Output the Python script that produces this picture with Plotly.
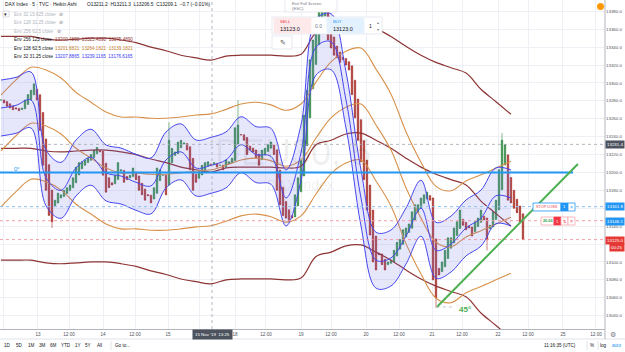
import plotly.graph_objects as go

W, H = 625, 352

# ---------------- data ----------------
# Heikin Ashi closes, one value per bar
ha_close = [
    13281, 13277.7, 13274, 13272, 13270, 13271, 13269, 13272, 13281, 13287,
    13292, 13299, 13281, 13247, 13208, 13180, 13152, 13145, 13169, 13177,
    13175, 13180, 13183, 13186, 13194, 13206, 13211, 13212, 13214, 13216,
    13220, 13225, 13228, 13223, 13197, 13178, 13183, 13186, 13197, 13211,
    13203, 13189, 13192, 13197, 13205, 13192, 13180, 13175, 13169, 13174,
    13166, 13183, 13205, 13203, 13197, 13175, 13236, 13227, 13223, 13234,
    13236, 13233, 13225, 13203, 13180, 13189, 13201, 13208, 13211, 13212,
    13208, 13211, 13206, 13208, 13203, 13214, 13212, 13216, 13250, 13253,
    13242, 13236, 13220, 13225, 13223, 13216, 13208, 13225, 13227, 13231,
    13234, 13220, 13180, 13164, 13152, 13149, 13145, 13149, 13175, 13194,
    13214, 13264, 13292, 13326, 13348, 13365, 13382, 13387, 13384, 13348,
    13339, 13331, 13328, 13323, 13326, 13320, 13314.5, 13287, 13261, 13236,
    13212, 13192, 13158, 13130, 13100, 13091, 13108, 13097, 13091, 13100,
    13102, 13113, 13122, 13125, 13136, 13138, 13142.5, 13156, 13164, 13164,
    13171.5, 13175, 13178, 13169, 13080, 13060, 13085.5, 13100, 13113, 13127,
    13127, 13138, 13145, 13158, 13141, 13136, 13138, 13129, 13145, 13149,
    13158, 13147, 13125, 13141, 13156, 13169, 13203, 13236, 13231, 13169,
    13166, 13160, 13155, 13145, 13125,
]
extra_high = {56: 13256.0, 79: 13281.0, 167: 13244.0}
extra_low = {17: 13138.0, 145: 13048.6, 162: 13113.0}

# Envelope basis values, one every 5 bars
env_step = 5
env32_basis = [13272, 13275, 13281, 13194, 13180, 13205, 13217, 13199.5, 13196, 13189,
               13185, 13214, 13223, 13205, 13208, 13214, 13231, 13220, 13218, 13171.5,
               13222, 13340, 13346, 13281, 13171.5, 13102, 13104.5, 13129, 13160, 13113,
               13120, 13138, 13149, 13174, 13171.5]
env128_basis = [13224, 13241, 13255, 13252, 13243, 13227, 13216, 13205, 13199.5, 13199.5,
                13198, 13198, 13199.5, 13201.7, 13203, 13208, 13214, 13216, 13213, 13207,
                13214, 13238.5, 13261, 13273, 13276.5, 13253, 13225, 13183, 13149, 13122,
                13117, 13128, 13135, 13142.5, 13150]
env256_basis = [13227, 13227, 13227, 13224, 13223, 13224, 13225, 13225, 13223, 13220,
                13215, 13211, 13206, 13203, 13200.5, 13205, 13206, 13206, 13206, 13205,
                13207, 13231, 13236, 13243, 13244, 13236, 13227, 13216, 13206, 13198,
                13192, 13186, 13168, 13154, 13140]
env32_offset = 31.25
env128_offset = 62.5
env256_offset = 125.0

x_tick_bars = [0.67, 12.33, 22.67, 34, 44.67, 55.67, 66.33, 78, 88.33, 100, 110,
               121.67, 132.67, 143.67, 153.67, 165.67, 175.67, 187.33, 198.33]
# the 12:00 label of the 15th sits under the crosshair date label in the reference
x_tick_text = ["12:00", "13", "12:00", "14", "12:00", "15", "", "18", "12:00", "19",
               "12:00", "20", "12:00", "21", "12:00", "22", "12:00", "25", "12:00"]
y_ticks = list(range(13040, 13381, 20))
y_ticks_hidden = {13120, 13160}  # covered by the price boxes in the reference

level_0deg = 13200.0
level_0deg_end_bar = 190.7
trend_pts = [(145.3, 13049.7), (192.3, 13209.5)]
cross_bar, cross_price = 70.33, 13231.4
stop_loss, take_profit, last_price = 13161.8, 13146.1, 13125.0

# ---------------- derived ----------------
n = len(ha_close)
bars = list(range(n))
ha_open = [ha_close[0]]
for i in range(1, n):
    ha_open.append((ha_open[-1] + ha_close[i - 1]) / 2)
ha_high = [max(o, c, extra_high.get(i, 0)) for i, (o, c) in enumerate(zip(ha_open, ha_close))]
ha_low = [min(o, c, extra_low.get(i, 1e9)) for i, (o, c) in enumerate(zip(ha_open, ha_close))]
env_x = [i * env_step for i in range(len(env32_basis))]

fig = go.Figure()

MAROON = "#8e3434"
ORANGE = "#d8914a"
BLUE = "#4646ee"


def env_lines(basis, off, color, width, fill=None):
    up = [b + off for b in basis]
    lo = [b - off for b in basis]
    fig.add_trace(go.Scatter(x=env_x, y=up, mode="lines", line=dict(color=color, width=width, shape="spline"),
                             hoverinfo="skip", showlegend=False))
    fig.add_trace(go.Scatter(x=env_x, y=lo, mode="lines", line=dict(color=color, width=width, shape="spline"),
                             fill="tonexty" if fill else None, fillcolor=fill, hoverinfo="skip", showlegend=False))
    fig.add_trace(go.Scatter(x=env_x, y=basis, mode="lines", line=dict(color=color, width=width, shape="spline"),
                             hoverinfo="skip", showlegend=False))


env_lines(env256_basis, env256_offset, MAROON, 1.2)
env_lines(env128_basis, env128_offset, ORANGE, 1.1)
env_lines(env32_basis, env32_offset, BLUE, 1.0, fill="rgba(110,110,240,0.17)")

fig.add_trace(go.Candlestick(
    x=bars, open=ha_open, high=ha_high, low=ha_low, close=ha_close,
    increasing=dict(line=dict(color="#2f8a43", width=0.6), fillcolor="#2f8a43"),
    decreasing=dict(line=dict(color="#a8302b", width=0.6), fillcolor="#a8302b"),
    whiskerwidth=0, showlegend=False, hoverinfo="skip"))


def px(x):
    return x / W


def py(y):
    return 1 - y / H


FONT = "Liberation Sans"
shapes = []
ann = []

plot_right = 605 / W

# price-level lines
shapes.append(dict(type="line", xref="paper", yref="y", x0=0, x1=plot_right, y0=cross_price, y1=cross_price,
                   line=dict(color="#a3a6af", width=0.8, dash="dot")))
shapes.append(dict(type="line", xref="paper", yref="y", x0=0, x1=plot_right, y0=stop_loss, y1=stop_loss,
                   line=dict(color="#8cbff2", width=1, dash="dot")))
shapes.append(dict(type="line", xref="paper", yref="y", x0=0, x1=plot_right, y0=take_profit, y1=take_profit,
                   line=dict(color="#f3a0a6", width=1, dash="dot")))
shapes.append(dict(type="line", xref="paper", yref="y", x0=0, x1=plot_right, y0=last_price, y1=last_price,
                   line=dict(color="#f08a90", width=0.8, dash="dot")))
shapes.append(dict(type="line", xref="x", yref="paper", x0=cross_bar, x1=cross_bar, y0=py(329), y1=1,
                   line=dict(color="#a3a6af", width=0.8, dash="dot")))
# 0 degree line and trend line
shapes.append(dict(type="line", xref="x", yref="y", x0=-1, x1=level_0deg_end_bar, y0=level_0deg, y1=level_0deg,
                   line=dict(color="#2196f3", width=2)))
shapes.append(dict(type="line", xref="x", yref="y", x0=trend_pts[0][0], x1=trend_pts[1][0],
                   y0=trend_pts[0][1], y1=trend_pts[1][1], line=dict(color="#4caf50", width=2)))
shapes.append(dict(type="line", xref="x", yref="y", x0=trend_pts[0][0], x1=trend_pts[0][0] + 6,
                   y0=trend_pts[0][1], y1=trend_pts[0][1], line=dict(color="#b2b5be", width=0.8, dash="dot")))

# frame lines
shapes.append(dict(type="line", xref="paper", yref="paper", x0=0, x1=1, y0=py(339), y1=py(339),
                   line=dict(color="#e0e3eb", width=1)))
shapes.append(dict(type="line", xref="paper", yref="paper", x0=plot_right, x1=plot_right, y0=py(339), y1=1,
                   line=dict(color="#b2b5be", width=1)))
for sx in (111, 587, 598):
    shapes.append(dict(type="line", xref="paper", yref="paper", x0=px(sx), x1=px(sx), y0=py(341), y1=py(350),
                       line=dict(color="#e0e3eb", width=1)))


def rect(x0, y0, x1, y1, fill="white", line="#e0e3eb", lw=0.8):
    shapes.append(dict(type="rect", xref="paper", yref="paper", x0=px(x0), x1=px(x1), y0=py(y1), y1=py(y0),
                       fillcolor=fill, line=dict(color=line, width=lw), layer="above"))


def text(x, y, s, size=4.6, color="#131722", xa="left", bg=None, bold=False, pad=1):
    ann.append(dict(xref="paper", yref="paper", x=px(x), y=py(y), text=("<b>%s</b>" % s) if bold else s,
                    showarrow=False, xanchor=xa, yanchor="middle",
                    font=dict(family=FONT, size=size, color=color), bgcolor=bg, borderpad=pad))


# watermark
text(293, 152, "DEU30, 5", size=36, color="rgba(19,23,34,0.08)", xa="center")
text(300, 185, "DAX Index", size=14, color="rgba(19,23,34,0.08)", xa="center")

# header / legend
text(3, 5, "DAX Index · 5 · TVC · Heikin Ashi", size=4.8)
text(85, 5, "O13211.2  H13211.3  L13206.5  C13209.1  −0.7 (−0.01%)", size=4.8)
rect(3, 11, 9, 17, line="#d1d4dc")
text(6, 14, "▾", size=4.5, xa="center")
text(12, 14, "Env 32 15.625 close", color="#b2b5be")
text(57, 14, "⊘", color="#787b86", size=4.5)
text(12, 23, "Env 128 31.25 close", color="#b2b5be")
text(57, 23, "⊘", color="#787b86", size=4.5)
text(12, 31, "Env 256 62.5 close", color="#b2b5be")
text(55, 31, "⊘", color="#787b86", size=4.5)
text(12, 39, "Env 256 125 close", color="#131722")
text(53, 39, "13200.4890  13325.4890  13075.4890", color=MAROON)
text(12, 48, "Env 128 62.5 close", color="#131722")
text(53, 48, "13201.6821  13264.1821  13139.1821", color="#c67d2c")
text(12, 57, "Env 32 31.25 close", color="#131722")
text(53, 57, "13207.8865  13239.1165  13176.6165", color="#3838f0")

# tooltip and trading panel
rect(285, -3, 337, 12)
text(290, 3, "Exit Full Screen", size=4.2, color="#787b86")
text(290, 9, "(ESC)", size=4.2, color="#787b86")
rect(272, 17, 382, 34)
rect(274, 18, 311, 33, fill="#fde8ea", line="#fde8ea")
text(278, 21.5, "SELL", size=4.2, color="#f23645")
text(278, 29, "13123.0", size=5.5)
text(318, 26, "0.0", size=5, color="#787b86", xa="center")
rect(327, 18, 364, 33, fill="#e3f0fd", line="#e3f0fd")
text(331, 21.5, "BUY", size=4.2, color="#2196f3")
text(331, 29, "13123.0", size=5.5)
text(370, 26, "1", size=5, xa="center")
text(378, 23, "▴", size=4, xa="center", color="#787b86")
text(378, 29, "▾", size=4, xa="center", color="#787b86")
rect(272, 36, 292, 49)
text(283, 42.5, "✎", size=7, xa="center", color="#555")

# orange alert dot
shapes.append(dict(type="circle", xref="paper", yref="paper", x0=px(597), x1=px(604), y0=py(10), y1=py(3),
                   fillcolor="#ff9800", line=dict(width=0)))

# angle labels
text(12, 168.5, "0°", size=6, color="#2196f3")
text(457, 309, "45°", size=8, color="#4caf50", bold=True)

# order boxes
rect(533, 203, 561, 211, line="#2196f3")
text(547, 207, "STOP LOSS", size=3.8, color="#f23645", xa="center")
rect(561, 203, 568, 211, fill="#2196f3", line="#2196f3")
text(564.5, 207, "1", size=4, color="white", xa="center")
rect(568, 203, 575, 211, line="#2196f3")
text(571.5, 207, "×", size=5, color="#2196f3", xa="center")
rect(541, 217, 554, 225, line="#f7a8ad")
text(547.5, 221, "20.00", size=3.8, color="#22a046", xa="center", bold=True)
rect(554, 217, 561, 225, fill="#f23645", line="#f23645")
text(557.5, 221, "1", size=4, color="white", xa="center")
rect(561, 217, 568, 225, line="#f7a8ad")
text(564.5, 221, "⇅", size=4, color="#f23645", xa="center")
rect(568, 217, 575, 225, line="#f7a8ad")
text(571.5, 221, "×", size=5, color="#f23645", xa="center")

# axis price labels
text(615, 145, "13231.4", size=4.4, color="white", xa="center", bg="#4c525e")
text(615, 207, "13161.8", size=4.4, color="white", xa="center", bg="#2196f3")
text(615, 221, "13146.1", size=4.4, color="white", xa="center", bg="#2196f3")
text(615, 240.5, "13125.0", size=4.4, color="white", xa="center", bg="#e53935")
text(617, 247.5, "00:25", size=4.4, color="white", xa="center", bg="#e53935")
text(212, 334.5, "15 Nov '19  13:25", size=4.4, color="white", xa="center", bg="#4c525e", pad=2)
text(613, 334.5, "⚙", size=7, color="#787b86", xa="center")

# bottom toolbar
for lbl, x in [("1D", 7), ("5D", 19), ("1M", 31), ("3M", 42), ("6M", 53), ("YTD", 66), ("1Y", 78),
               ("5Y", 88), ("All", 99), ("Go to...", 122)]:
    text(x, 345.5, lbl, size=4.6, xa="center")
text(560, 345.5, "11:16:35 (UTC)", size=4.6, xa="center")
text(592, 345.5, "%", size=4.6, xa="center")
text(603, 345.5, "log", size=4.6, xa="center")
text(616, 345.5, "auto", size=4.6, xa="center", color="#2196f3")

fig.update_layout(
    width=W, height=H, autosize=False,
    margin=dict(l=0, r=0, t=0, b=0),
    paper_bgcolor="white", plot_bgcolor="white",
    shapes=shapes, annotations=ann,
    showlegend=False,
    xaxis=dict(domain=[0, plot_right], range=[-1 / 3, 604 / 3], rangeslider=dict(visible=False),
               tickvals=x_tick_bars, ticktext=x_tick_text, showgrid=True, gridcolor="#eef0f5", gridwidth=1,
               zeroline=False, showline=True, linecolor="#b2b5be", linewidth=1, ticks="",
               tickfont=dict(family=FONT, size=4.6, color="#50535e"), automargin=False, fixedrange=True),
    yaxis=dict(domain=[1 - 329 / H, 1], range=[13025.1, 13392.7], side="right",
               tickvals=y_ticks, ticktext=["" if v in y_ticks_hidden else "%.1f" % v for v in y_ticks],
               showgrid=True, gridcolor="#eef0f5", gridwidth=1, zeroline=False, showline=False, ticks="",
               tickfont=dict(family=FONT, size=4.4, color="#50535e"), automargin=False, fixedrange=True),
)

fig.write_html("out.html", config={"displayModeBar": False})
